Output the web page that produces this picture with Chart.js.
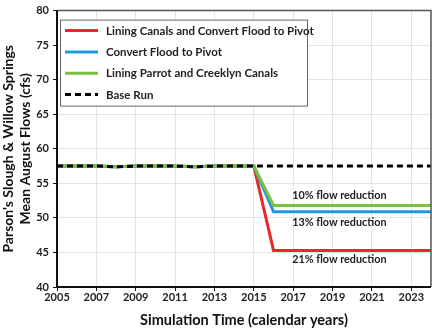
<!DOCTYPE html>
<html><head><meta charset="utf-8">
<script src="https://cdn.jsdelivr.net/npm/chart.js@4"></script>
<style>html,body{margin:0;padding:0;background:#fff}#w{width:432px;height:329px}</style>
</head><body><div id="w"><canvas id="c"></canvas></div>
<script>
const years = [2005,2006,2007,2008,2009,2010,2011,2012,2013,2014,2015,2016,2017,2018,2019,2020,2021,2022,2023,2024];
const baseRun   = [57.5,57.5,57.5,57.4,57.5,57.5,57.5,57.4,57.5,57.5,57.5,57.5,57.5,57.5,57.5,57.5,57.5,57.5,57.5,57.5];
const liningConvert = [57.5,57.5,57.5,57.4,57.5,57.5,57.5,57.4,57.5,57.5,57.5,45.3,45.3,45.3,45.3,45.3,45.3,45.3,45.3,45.3];
const convertFlood  = [57.5,57.5,57.5,57.4,57.5,57.5,57.5,57.4,57.5,57.5,57.5,50.9,50.9,50.9,50.9,50.9,50.9,50.9,50.9,50.9];
const liningParrot  = [57.5,57.5,57.5,57.4,57.5,57.5,57.5,57.4,57.5,57.5,57.5,51.8,51.8,51.8,51.8,51.8,51.8,51.8,51.8,51.8];
const seriesLabels = ["Lining Canals and Convert Flood to Pivot","Convert Flood to Pivot","Lining Parrot and Creeklyn Canals","Base Run"];
const xTicks = [2005,2007,2009,2011,2013,2015,2017,2019,2021,2023];
const noteLabels = ["10% flow reduction","13% flow reduction","21% flow reduction"];
const noteX = [2016.95,2016.95,2016.95];
const noteY = [53.2,49.4,44.0];

const FONT = "Lato, 'Open Sans', sans-serif";
const colors = ["#e8282b","#1e9be0","#7ac143","#000000"];
const pts = arr => arr.map((v,i)=>({x:years[i],y:v}));

const frameLegend = {
  id:'frameLegend',
  afterDatasetsDraw(chart){
    const {ctx, chartArea:a, scales} = chart;
    ctx.save();
    ctx.strokeStyle = "#555"; ctx.lineWidth = 1.5;
    ctx.beginPath(); ctx.moveTo(a.left,a.top); ctx.lineTo(a.right,a.top); ctx.lineTo(a.right,a.bottom); ctx.stroke();
    ctx.strokeStyle = "#111"; ctx.lineWidth = 2;
    ctx.beginPath(); ctx.moveTo(a.left,a.top); ctx.lineTo(a.left,a.bottom); ctx.lineTo(a.right,a.bottom); ctx.stroke();
    ctx.fillStyle = "#222"; ctx.font = "bold 10.8px " + FONT; ctx.textBaseline = "middle"; ctx.textAlign = "left";
    noteLabels.forEach((t,i)=>ctx.fillText(t, scales.x.getPixelForValue(noteX[i]), scales.y.getPixelForValue(noteY[i])));
    const L = a.left + 3, T = a.top + 9, W = 247, H = 86;
    ctx.fillStyle = "#fff"; ctx.fillRect(L,T,W,H);
    ctx.strokeStyle = "#666"; ctx.lineWidth = 1; ctx.strokeRect(L+0.5,T+0.5,W,H);
    const ds = chart.data.datasets;
    [0,1,2,3].forEach((k,i)=>{
      const y = T + 11 + i*21.3;
      ctx.strokeStyle = ds[k].borderColor; ctx.lineWidth = 3;
      ctx.setLineDash(ds[k].borderDash || []);
      ctx.beginPath(); ctx.moveTo(L+5,y); ctx.lineTo(L+38,y); ctx.stroke();
      ctx.setLineDash([]);
      ctx.fillStyle = "#222"; ctx.font = "bold 11.5px " + FONT;
      ctx.fillText(ds[k].label, L+46, y+0.5);
    });
    ctx.restore();
  }
};

new Chart(document.getElementById('c'), {
  type:'line',
  data:{datasets:[
    {label:seriesLabels[0], data:pts(liningConvert), borderColor:colors[0], order:3},
    {label:seriesLabels[1], data:pts(convertFlood), borderColor:colors[1], order:2},
    {label:seriesLabels[2], data:pts(liningParrot), borderColor:colors[2], order:1},
    {label:seriesLabels[3], data:pts(baseRun), borderColor:colors[3], borderDash:[6,4], order:0}
  ]},
  options:{
    responsive:true, maintainAspectRatio:false, animation:false,
    layout:{padding:{top:5,right:1,left:0,bottom:0}},
    elements:{point:{radius:0}, line:{borderWidth:3, tension:0, borderCapStyle:'butt'}},
    plugins:{legend:{display:false}, tooltip:{enabled:false}},
    scales:{
      x:{type:'linear', min:2005, max:2024,
        afterBuildTicks: s => { s.ticks = xTicks.map(v=>({value:v})); },
        afterFit: s => { s.height = 42; },
        grid:{color:"#e4e4e4", lineWidth:1, tickLength:4, tickColor:"#111"},
        border:{display:false},
        ticks:{color:"#222", font:{family:FONT, weight:'bold', size:11}, padding:0, maxRotation:0, callback:v=>String(v)},
        title:{display:true, text:"Simulation Time (calendar years)", color:"#111", font:{family:FONT, weight:'bold', size:14.5}, padding:{top:8,bottom:0}}
      },
      y:{min:40, max:80,
        ticks:{stepSize:5, color:"#222", font:{family:FONT, weight:'bold', size:11}, padding:4},
        afterFit: s => { s.width = 57; },
        grid:{color:"#e4e4e4", lineWidth:1, tickLength:4, tickColor:"#111"},
        border:{display:false},
        title:{display:true, text:["Parson's Slough & Willow Springs","Mean August Flows (cfs)"], color:"#111", font:{family:FONT, weight:'bold', size:14}, padding:{top:0,bottom:0}}
      }
    }
  },
  plugins:[frameLegend]
});
</script></body></html>
